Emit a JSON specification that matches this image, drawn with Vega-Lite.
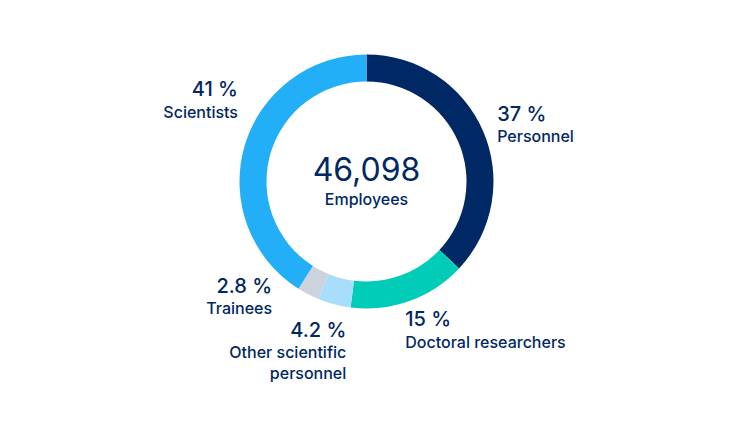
{
  "$schema": "https://vega.github.io/schema/vega-lite/v6.json",
  "width": 733,
  "height": 363,
  "autosize": {"type": "none"},
  "padding": {"left": 0, "top": 0, "right": 4, "bottom": 78},
  "background": "white",
  "config": {"view": {"stroke": null}, "font": "Inter"},
  "datasets": {
    "groups": [
      {"rank": 1, "cat": "Personnel", "value": 37, "pct": "37 %", "name": "Personnel"},
      {"rank": 2, "cat": "Doctoral researchers", "value": 15, "pct": "15 %", "name": "Doctoral researchers"},
      {"rank": 3, "cat": "Other scientific personnel", "value": 4.2, "pct": "4.2 %", "name": "Other scientific\npersonnel"},
      {"rank": 4, "cat": "Trainees", "value": 2.8, "pct": "2.8 %", "name": "Trainees"},
      {"rank": 5, "cat": "Scientists", "value": 41, "pct": "41 %", "name": "Scientists"}
    ],
    "total": [{"count": "46,098", "label": "Employees"}]
  },
  "layer": [
    {
      "data": {"name": "groups"},
      "mark": {"type": "arc", "innerRadius": 100, "outerRadius": 127, "strokeWidth": 0},
      "encoding": {
        "theta": {"field": "value", "type": "quantitative", "stack": true},
        "order": {"field": "rank", "type": "quantitative"},
        "color": {
          "field": "cat", "type": "nominal", "legend": null,
          "scale": {
            "domain": ["Personnel", "Doctoral researchers", "Other scientific personnel", "Trainees", "Scientists"],
            "range": ["#002864", "#00CCB8", "#A8DDFB", "#CDD3DD", "#22AFF8"]
          }
        }
      }
    },
    {
      "data": {"name": "groups"},
      "mark": {
        "type": "text", "radius": 150, "fontSize": 20, "fontWeight": 500, "color": "#002864", "baseline": "middle",
        "align": {"expr": "datum.rank <= 2 ? 'left' : 'right'"},
        "dx": {"expr": "datum.rank == 1 ? -7 : datum.rank == 2 ? -12 : datum.rank == 3 ? 18 : datum.rank == 4 ? -25.5 : 15.5"},
        "dy": {"expr": "datum.rank == 1 ? -7 : datum.rank == 2 ? -3 : datum.rank == 3 ? 4 : datum.rank == 4 ? -27.7 : -49.6"}
      },
      "encoding": {
        "theta": {"field": "value", "type": "quantitative", "stack": true},
        "order": {"field": "rank", "type": "quantitative"},
        "text": {"field": "pct", "type": "nominal"}
      }
    },
    {
      "data": {"name": "groups"},
      "mark": {
        "type": "text", "radius": 150, "fontSize": 16, "fontWeight": 500, "color": "#002864", "baseline": "middle",
        "lineBreak": "\n", "lineHeight": 21,
        "align": {"expr": "datum.rank <= 2 ? 'left' : 'right'"},
        "dx": {"expr": "datum.rank == 1 ? -7 : datum.rank == 2 ? -12 : datum.rank == 3 ? 18 : datum.rank == 4 ? -25.5 : 15.5"},
        "dy": {"expr": "datum.rank == 1 ? 15 : datum.rank == 2 ? 20 : datum.rank == 3 ? 26 : datum.rank == 4 ? -5.7 : -26.6"}
      },
      "encoding": {
        "theta": {"field": "value", "type": "quantitative", "stack": true},
        "order": {"field": "rank", "type": "quantitative"},
        "text": {"field": "name", "type": "nominal"}
      }
    },
    {
      "data": {"name": "total"},
      "mark": {"type": "text", "fontSize": 32, "fontWeight": 400, "color": "#002864", "baseline": "middle", "align": "center", "x": {"expr": "width / 2"}, "y": {"expr": "height / 2"}, "dy": -11},
      "encoding": {"text": {"field": "count", "type": "nominal"}}
    },
    {
      "data": {"name": "total"},
      "mark": {"type": "text", "fontSize": 16, "fontWeight": 500, "color": "#002864", "baseline": "middle", "align": "center", "x": {"expr": "width / 2"}, "y": {"expr": "height / 2"}, "dy": 18.5},
      "encoding": {"text": {"field": "label", "type": "nominal"}}
    }
  ]
}
